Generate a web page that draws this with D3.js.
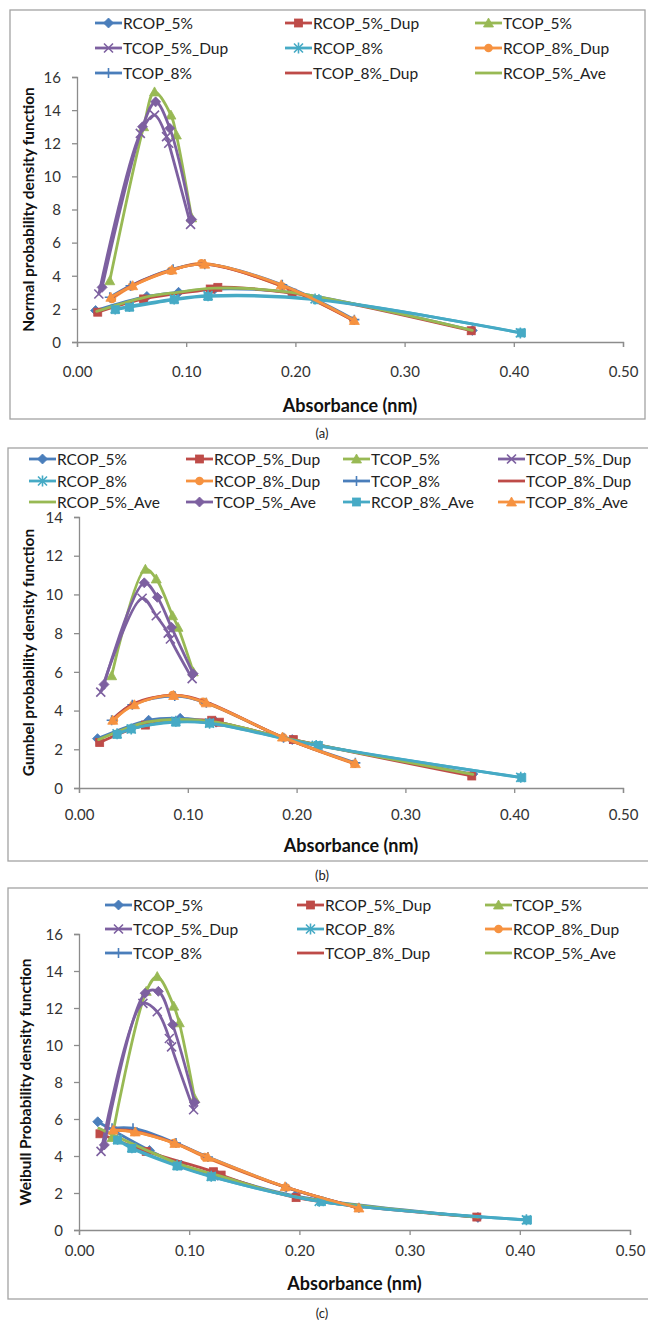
<!DOCTYPE html>
<html><head><meta charset="utf-8">
<script src="https://cdn.jsdelivr.net/npm/d3@7"></script>
<style>
body{margin:0;background:#fff}
text{font-family:Lato,"Open Sans",sans-serif}
</style>
</head><body>
<svg id="fig" width="648" height="1320"></svg>
<script>
// ---- series ----
const seriesNames = ["RCOP_5%","RCOP_5%_Dup","TCOP_5%","TCOP_5%_Dup","RCOP_8%","RCOP_8%_Dup",
  "TCOP_8%","TCOP_8%_Dup","RCOP_5%_Ave","TCOP_5%_Ave","RCOP_8%_Ave","TCOP_8%_Ave"];

// absorbance (nm) of each sample
const absRcop5    = [0.017, 0.064, 0.093, 0.126, 0.196, 0.362];
const absRcop5Dup = [0.019, 0.061, 0.122, 0.129, 0.197, 0.361];
const absTcop5    = [0.030, 0.061, 0.071, 0.086, 0.091, 0.105];
const absTcop5Dup = [0.020, 0.058, 0.071, 0.082, 0.084, 0.104];
const absRcop8    = [0.035, 0.048, 0.089, 0.120, 0.218, 0.406];
const absRcop8Dup = [0.032, 0.050, 0.086, 0.114, 0.188, 0.253];
const absTcop8    = [0.030, 0.049, 0.088, 0.117, 0.188, 0.254];
const absTcop8Dup = [0.031, 0.050, 0.087, 0.116, 0.187, 0.253];
const absRcop5Ave = [0.018, 0.062, 0.092, 0.126, 0.196, 0.362];
const absTcop5Ave = [0.023, 0.060, 0.072, 0.085, 0.105];
const absRcop8Ave = [0.035, 0.048, 0.089, 0.120, 0.220, 0.407];
const absTcop8Ave = [0.031, 0.051, 0.087, 0.117, 0.187, 0.254];

// (a) normal probability density
const normalRcop5    = [1.9, 2.75, 3.0, 3.2, 3.0, 0.7];
const normalRcop5Dup = [1.8, 2.6, 3.2, 3.3, 2.95, 0.68];
const normalTcop5    = [3.7, 13.0, 15.1, 13.7, 12.5, 7.5];
const normalTcop5Dup = [2.9, 12.6, 13.7, 12.4, 12.0, 7.1];
const normalRcop8    = [2.0, 2.15, 2.6, 2.8, 2.6, 0.55];
const normalRcop8Dup = [2.6, 3.35, 4.3, 4.75, 3.35, 1.3];
const normalTcop8    = [2.7, 3.4, 4.4, 4.7, 3.45, 1.35];
const normalTcop8Dup = [2.65, 3.4, 4.35, 4.7, 3.4, 1.3];
const normalRcop5Ave = [1.85, 2.7, 3.0, 3.25, 3.0, 0.7];
const normalTcop5Ave = [3.3, 13.0, 14.5, 12.9, 7.4];
const normalRcop8Ave = [1.95, 2.1, 2.55, 2.75, 2.55, 0.55];
const normalTcop8Ave = [2.7, 3.4, 4.35, 4.7, 3.45, 1.3];

// (b) Gumbel probability density
const gumbelRcop5    = [2.55, 3.5, 3.6, 3.4, 2.5, 0.72];
const gumbelRcop5Dup = [2.35, 3.25, 3.5, 3.4, 2.5, 0.62];
const gumbelTcop5    = [5.8, 11.3, 10.8, 8.9, 8.3, 6.0];
const gumbelTcop5Dup = [4.95, 9.8, 8.9, 8.0, 7.7, 5.65];
const gumbelRcop8    = [2.8, 3.05, 3.45, 3.35, 2.2, 0.55];
const gumbelRcop8Dup = [3.5, 4.3, 4.8, 4.45, 2.6, 1.25];
const gumbelTcop8    = [3.5, 4.3, 4.75, 4.4, 2.6, 1.3];
const gumbelTcop8Dup = [3.55, 4.35, 4.8, 4.45, 2.62, 1.28];
const gumbelRcop5Ave = [2.5, 3.4, 3.55, 3.4, 2.5, 0.7];
const gumbelTcop5Ave = [5.35, 10.6, 9.85, 8.3, 5.9];
const gumbelRcop8Ave = [2.77, 3.05, 3.4, 3.35, 2.2, 0.53];
const gumbelTcop8Ave = [3.5, 4.3, 4.78, 4.4, 2.63, 1.26];

// (c) Weibull probability density
const weibullRcop5    = [5.85, 4.3, 3.5, 2.95, 1.85, 0.68];
const weibullRcop5Dup = [5.2, 4.25, 3.15, 2.97, 1.75, 0.7];
const weibullTcop5    = [5.0, 12.9, 13.7, 12.1, 11.2, 7.1];
const weibullTcop5Dup = [4.25, 12.25, 11.8, 10.35, 9.9, 6.5];
const weibullRcop8    = [4.9, 4.45, 3.5, 2.9, 1.55, 0.55];
const weibullRcop8Dup = [5.4, 5.3, 4.7, 3.95, 2.3, 1.2];
const weibullTcop8    = [5.5, 5.5, 4.7, 3.95, 2.3, 1.2];
const weibullTcop8Dup = [5.4, 5.35, 4.7, 3.93, 2.33, 1.2];
const weibullRcop5Ave = [5.5, 4.3, 3.55, 2.95, 1.8, 0.7];
const weibullTcop5Ave = [4.6, 12.8, 12.9, 11.1, 6.9];
const weibullRcop8Ave = [4.86, 4.41, 3.46, 2.88, 1.53, 0.54];
const weibullTcop8Ave = [5.4, 5.3, 4.68, 3.93, 2.34, 1.19];

const xTicks = [0, 0.1, 0.2, 0.3, 0.4, 0.5];

// ---- styling ----
const seriesColors = ["#4a7ebb","#be4b48","#98b954","#7d60a0","#46aac5","#f69240",
  "#4a7ebb","#be4b48","#98b954","#7d60a0","#46aac5","#f69240"];
const seriesMarkers = ["diamond","square","triangle","cross","star","circle",
  "plus","none","none","diamond","square","triangle"];

const absSets = [absRcop5, absRcop5Dup, absTcop5, absTcop5Dup, absRcop8, absRcop8Dup,
  absTcop8, absTcop8Dup, absRcop5Ave, absTcop5Ave, absRcop8Ave, absTcop8Ave];

const panels = [
  { ys: [normalRcop5, normalRcop5Dup, normalTcop5, normalTcop5Dup, normalRcop8, normalRcop8Dup,
         normalTcop8, normalTcop8Dup, normalRcop5Ave, normalTcop5Ave, normalRcop8Ave, normalTcop8Ave],
    yMax: 16, yLabel: "Normal probability density function", caption: "(a)",
    frame: [10, 10, 635, 409], px: [77, 623], py: [342, 77],
    tickY: 371, titleY: 405, yTitleX: 28, captionY: 433,
    legendCols: [95, 285, 475], legendRows: [23, 48, 73], legendCount: 9 },
  { ys: [gumbelRcop5, gumbelRcop5Dup, gumbelTcop5, gumbelTcop5Dup, gumbelRcop8, gumbelRcop8Dup,
         gumbelTcop8, gumbelTcop8Dup, gumbelRcop5Ave, gumbelTcop5Ave, gumbelRcop8Ave, gumbelTcop8Ave],
    yMax: 14, yLabel: "Gumbel probability density function", caption: "(b)",
    frame: [8, 448, 645, 413], px: [79, 623], py: [788, 517],
    tickY: 814, titleY: 845, yTitleX: 28, captionY: 875,
    legendCols: [29, 186, 343, 498], legendRows: [459, 481, 502], legendCount: 12 },
  { ys: [weibullRcop5, weibullRcop5Dup, weibullTcop5, weibullTcop5Dup, weibullRcop8, weibullRcop8Dup,
         weibullTcop8, weibullTcop8Dup, weibullRcop5Ave, weibullTcop5Ave, weibullRcop8Ave, weibullTcop8Ave],
    yMax: 16, yLabel: "Weibull Probability density function", caption: "(c)",
    frame: [8, 888, 645, 411], px: [79, 630], py: [1230, 934],
    tickY: 1250, titleY: 1283, yTitleX: 25, captionY: 1313,
    legendCols: [105, 297, 485], legendRows: [905, 929, 953], legendCount: 9 }
];

const svg = d3.select("#fig");
const axisGray = "#8c8c8c";

function drawMarker(g, type, color, x, y) {
  const s = 4.5;
  if (type === "diamond") {
    g.append("path").attr("d", `M${x},${y-s-0.5}L${x+s+0.5},${y}L${x},${y+s+0.5}L${x-s-0.5},${y}Z`)
      .attr("fill", color).attr("stroke", color).attr("stroke-width", 0.8);
  } else if (type === "square") {
    g.append("rect").attr("x", x-4).attr("y", y-4).attr("width", 8).attr("height", 8)
      .attr("fill", color).attr("stroke", color).attr("stroke-width", 0.8);
  } else if (type === "triangle") {
    g.append("path").attr("d", `M${x},${y-5}L${x+5},${y+4}L${x-5},${y+4}Z`)
      .attr("fill", color).attr("stroke", color).attr("stroke-width", 0.8);
  } else if (type === "circle") {
    g.append("circle").attr("cx", x).attr("cy", y).attr("r", 4.3).attr("fill", color);
  } else if (type === "cross") {
    g.append("path").attr("d", `M${x-s},${y-s}L${x+s},${y+s}M${x-s},${y+s}L${x+s},${y-s}`)
      .attr("stroke", color).attr("stroke-width", 1.6).attr("fill", "none");
  } else if (type === "star") {
    g.append("path").attr("d", `M${x-s},${y-s}L${x+s},${y+s}M${x-s},${y+s}L${x+s},${y-s}M${x},${y-s-1}L${x},${y+s+1}`)
      .attr("stroke", color).attr("stroke-width", 1.6).attr("fill", "none");
  } else if (type === "plus") {
    g.append("path").attr("d", `M${x-s-0.5},${y}L${x+s+0.5},${y}M${x},${y-s-0.5}L${x},${y+s+0.5}`)
      .attr("stroke", color).attr("stroke-width", 1.6).attr("fill", "none");
  }
}

panels.forEach(p => {
  const g = svg.append("g");
  // chart frame
  g.append("rect").attr("x", p.frame[0]).attr("y", p.frame[1])
    .attr("width", p.frame[2]).attr("height", p.frame[3])
    .attr("fill", "none").attr("stroke", "#a3a3a3").attr("stroke-width", 1.3);

  const x = d3.scaleLinear().domain([0, 0.5]).range(p.px);
  const y = d3.scaleLinear().domain([0, p.yMax]).range(p.py);

  // axes
  const xAxis = g.append("g").attr("transform", `translate(0,${p.py[0]})`)
    .call(d3.axisBottom(x).tickValues(xTicks).tickSize(5).tickFormat(d3.format(".2f")));
  const yAxis = g.append("g").attr("transform", `translate(${p.px[0]},0)`)
    .call(d3.axisLeft(y).tickValues(d3.range(0, p.yMax + 1, 2)).tickSize(5).tickPadding(11));
  [xAxis, yAxis].forEach(a => {
    a.select(".domain").attr("stroke", axisGray).attr("stroke-width", 1.3);
    a.selectAll(".tick line").attr("stroke", axisGray).attr("stroke-width", 1.3);
    a.selectAll(".tick text").attr("fill", "#333").attr("font-size", 15)
      .attr("font-family", "Lato, 'Open Sans', sans-serif");
  });
  xAxis.selectAll(".tick text").attr("y", null).attr("dy", null)
    .attr("dominant-baseline", "central")
    .attr("transform", `translate(0,${p.tickY - p.py[0]})`);
  yAxis.selectAll(".tick text").attr("dy", "0.35em");

  // titles
  g.append("text").attr("x", (p.px[0] + p.px[1]) / 2).attr("y", p.titleY)
    .attr("text-anchor", "middle").attr("dominant-baseline", "central")
    .attr("font-weight", "bold").attr("font-size", 18).attr("fill", "#111")
    .text("Absorbance (nm)");
  g.append("text")
    .attr("transform", `translate(${p.yTitleX},${(p.py[0] + p.py[1]) / 2}) rotate(-90)`)
    .attr("text-anchor", "middle").attr("dominant-baseline", "central")
    .attr("font-weight", "bold").attr("font-size", 15.5).attr("fill", "#111")
    .text(p.yLabel);
  svg.append("text").attr("x", 322).attr("y", p.captionY)
    .attr("text-anchor", "middle").attr("dominant-baseline", "central")
    .attr("font-size", 13).attr("fill", "#222").text(p.caption);

  // series: smoothed lines with markers, drawn in legend order
  const line = d3.line().x(d => x(d[0])).y(d => y(d[1])).curve(d3.curveCatmullRom.alpha(0.5));
  seriesNames.forEach((name, i) => {
    const pts = absSets[i].map((a, k) => [a, p.ys[i][k]]);
    const sg = g.append("g");
    sg.append("path").attr("d", line(pts)).attr("fill", "none")
      .attr("stroke", seriesColors[i]).attr("stroke-width", 2.8)
      .attr("stroke-linejoin", "round").attr("stroke-linecap", "round");
    pts.forEach(d => drawMarker(sg, seriesMarkers[i], seriesColors[i], x(d[0]), y(d[1])));
  });

  // legend
  const nCols = p.legendCols.length;
  seriesNames.slice(0, p.legendCount).forEach((name, i) => {
    const cx = p.legendCols[i % nCols], cy = p.legendRows[Math.floor(i / nCols)];
    const lg = g.append("g");
    lg.append("line").attr("x1", cx).attr("x2", cx + 27).attr("y1", cy).attr("y2", cy)
      .attr("stroke", seriesColors[i]).attr("stroke-width", 2.8);
    drawMarker(lg, seriesMarkers[i], seriesColors[i], cx + 13.5, cy);
    lg.append("text").attr("x", cx + 28).attr("y", cy).attr("dominant-baseline", "central")
      .attr("font-size", 15.5).attr("fill", "#222").text(name);
  });
});
</script>
</body></html>
